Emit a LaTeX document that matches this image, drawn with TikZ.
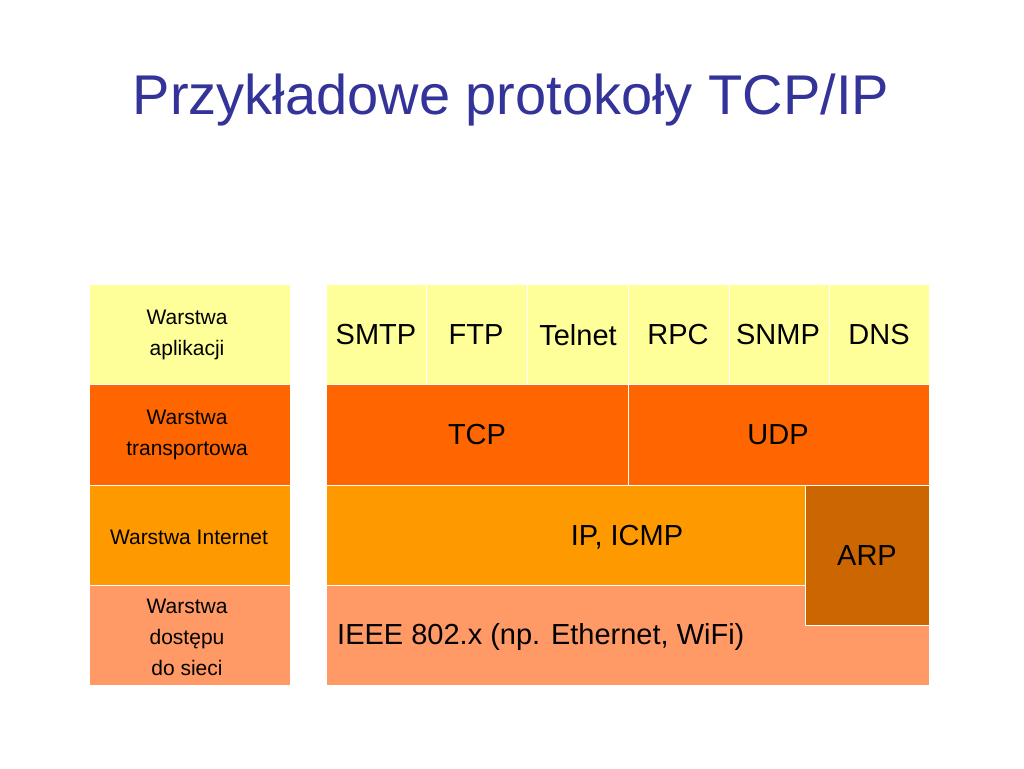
\documentclass[tikz,border=0pt]{standalone}
\usepackage{fontspec}
\setmainfont{Liberation Sans}
\definecolor{titleblue}{RGB}{51,51,153}
\definecolor{appl}{RGB}{255,255,153}
\definecolor{transp}{RGB}{255,102,0}
\definecolor{inet}{RGB}{255,153,0}
\definecolor{link}{RGB}{255,153,102}
\definecolor{arpc}{RGB}{204,102,0}
\begin{document}
\begin{tikzpicture}[x=1pt,y=-1pt]
\tikzstyle{cell}=[draw=white,line width=0.8pt]
\tikzstyle{big}=[font=\fontsize{29}{34}\selectfont,inner sep=0pt]
\tikzstyle{small}=[font=\fontsize{21}{31}\selectfont,align=center,inner sep=0pt]
\useasboundingbox (0,0) rectangle (1024,768);
\node [text=titleblue,font=\fontsize{56}{60}\selectfont] (title) at (511,100) {Przykładowe protokoły TCP/IP};
% left column
\fill [cell,fill=appl] (89,284) rectangle (290,384);
\fill [cell,fill=transp] (89,384) rectangle (290,485);
\fill [cell,fill=inet] (89,485) rectangle (290,585);
\fill [cell,fill=link] (89,585) rectangle (290,685);
\node [small] (lapp) at (187,335) {Warstwa\\ aplikacji};
\node [small] (ltra) at (187,435) {Warstwa\\transportowa};
\node [small] (lint) at (189,537) {Warstwa Internet};
\node [small] (lacc) at (187,637) {Warstwa\\dostępu\\ do sieci};
% right column
\foreach \xa/\xb in {326/426,426/527,527/628,628/729,729/829,829/929}
  \fill [cell,fill=appl] (\xa,284) rectangle (\xb,384);
\fill [cell,fill=transp] (326,384) rectangle (628,485);
\fill [cell,fill=transp] (628,384) rectangle (929,485);
\fill [cell,fill=link] (326,585) rectangle (929,685);
\fill [cell,fill=inet] (326,485) rectangle (805,585);
\fill [cell,fill=arpc] (805,485) rectangle (929,625);
\node [big] (smtp) at (376,335) {SMTP};
\node [big] (ftp) at (476,335) {FTP};
\node [big] (telnet) at (578,335) {Telnet};
\node [big] (rpc) at (678,335) {RPC};
\node [big] (snmp) at (778,335) {SNMP};
\node [big] (dns) at (879,335) {DNS};
\node [big] (tcp) at (477,435) {TCP};
\node [big] (udp) at (778,435) {UDP};
\node [big] (ip) at (627,537) {IP, ICMP};
\node [big] (arp) at (867,556) {ARP};
\node [big,anchor=west] (ieee) at (337,637) {IEEE 802.x (np. Ethernet, WiFi)};
\end{tikzpicture}
\end{document}
